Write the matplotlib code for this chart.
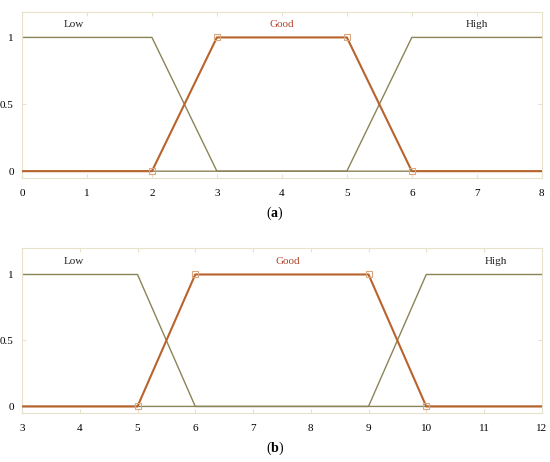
import matplotlib
matplotlib.use("Agg")
import matplotlib.pyplot as plt

plt.rcParams['font.family'] = ['Liberation Serif', 'DejaVu Serif']
plt.rcParams['mathtext.fontset'] = 'custom'
plt.rcParams['mathtext.rm'] = 'Liberation Serif'
plt.rcParams['mathtext.bf'] = 'Liberation Serif:bold'

# Panel (a)
a_xticks = [0, 1, 2, 3, 4, 5, 6, 7, 8]
a_low_x = [0, 2, 3, 8]
a_low_y = [1, 1, 0, 0]
a_good_x = [0, 2, 3, 5, 6, 8]
a_good_y = [0, 0, 1, 1, 0, 0]
a_high_x = [0, 5, 6, 8]
a_high_y = [0, 0, 1, 1]
a_labels_x = [0.8, 4.0, 7.0]

# Panel (b)
b_xticks = [3, 4, 5, 6, 7, 8, 9, 10, 11, 12]
b_low_x = [3, 5, 6, 12]
b_low_y = [1, 1, 0, 0]
b_good_x = [3, 5, 6, 9, 10, 12]
b_good_y = [0, 0, 1, 1, 0, 0]
b_high_x = [3, 9, 10, 12]
b_high_y = [0, 0, 1, 1]
b_labels_x = [3.9, 7.6, 11.2]

yticks = [0, 0.5, 1]
ytick_labels = ['0', '0.5', '1']
names = ['Low', 'Good', 'High']

OLIVE = '#8a8458'
ORANGE = '#b8622c'
GOODTXT = '#b0452e'
FRAME = '#e6e2cc'

fig = plt.figure(figsize=(5.5, 4.62), dpi=100)
ax_a = fig.add_axes([0.04, 0.615, 0.945, 0.359])
ax_b = fig.add_axes([0.04, 0.106, 0.945, 0.357])

def draw(ax, lx, ly, gx, gy, hx, hy, xticks, labx, ylim):
    ax.plot(lx, ly, color=OLIVE, lw=1.0, zorder=2)
    ax.plot(hx, hy, color=OLIVE, lw=1.0, zorder=2)
    ax.plot(gx, gy, color=ORANGE, lw=1.5, zorder=3,
            marker='s', markersize=4.5, markerfacecolor='none',
            markeredgecolor='#d9a77f', markeredgewidth=0.8,
            markevery=list(range(1, len(gx) - 1)))
    ax.set_xlim(xticks[0], xticks[-1])
    ax.set_ylim(*ylim)
    ax.set_xticks(xticks)
    ax.set_xticklabels([str(t) for t in xticks])
    ax.set_yticks(yticks)
    ax.set_yticklabels(ytick_labels)
    for s in ax.spines.values():
        s.set_color(FRAME)
        s.set_linewidth(0.8)
    ax.tick_params(direction='in', length=3, color=FRAME, labelsize=8,
                   top=True, right=True, pad=8)
    ax.tick_params(axis='y', pad=6)
    cols = ['#222222', GOODTXT, '#222222']
    for x, n, c in zip(labx, names, cols):
        ax.text(x, 1.1, n, color=c, fontsize=8, ha='center', va='center')

draw(ax_a, a_low_x, a_low_y, a_good_x, a_good_y, a_high_x, a_high_y,
     a_xticks, a_labels_x, (-0.05, 1.19))
draw(ax_b, b_low_x, b_low_y, b_good_x, b_good_y, b_high_x, b_high_y,
     b_xticks, b_labels_x, (-0.05, 1.2))

fig.text(0.5, 0.538, r'($\mathbf{a}$)', ha='center', va='center', fontsize=10)
fig.text(0.5, 0.03, r'($\mathbf{b}$)', ha='center', va='center', fontsize=10)

fig.savefig('out.png', dpi=100)
